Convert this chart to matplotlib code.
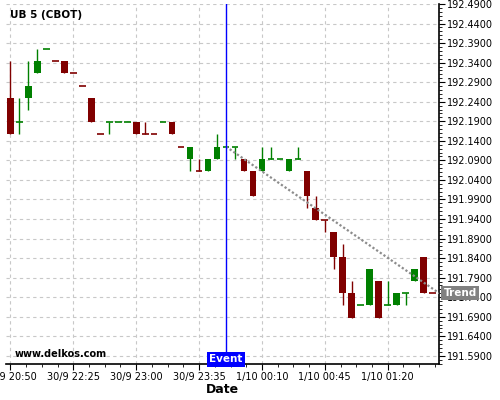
import numpy as np
import matplotlib
matplotlib.use('Agg')
import matplotlib.pyplot as plt
from matplotlib.ticker import MultipleLocator, FormatStrFormatter

# 5 minute candles, UB (CBOT), prices in 1/32 steps
opens = [192.25, 192.1875, 192.25, 192.3125, 192.375, 192.34375, 192.34375, 192.3125, 192.28125, 192.25,
         192.15625, 192.1875, 192.1875, 192.1875, 192.1875, 192.15625, 192.15625, 192.1875, 192.1875, 192.125,
         192.09375, 192.0625, 192.0625, 192.09375, 192.125, 192.125, 192.09375, 192.0625, 192.0625, 192.09375,
         192.09375, 192.0625, 192.09375, 192.0625, 191.96875, 191.9375, 191.90625, 191.84375, 191.75, 191.71875,
         191.71875, 191.78125, 191.71875, 191.71875, 191.75, 191.78125, 191.84375, 191.75]
closes = [192.15625, 192.1875, 192.28125, 192.34375, 192.375, 192.34375, 192.3125, 192.3125, 192.28125, 192.1875,
          192.15625, 192.1875, 192.1875, 192.1875, 192.15625, 192.15625, 192.15625, 192.1875, 192.15625, 192.125,
          192.125, 192.0625, 192.09375, 192.125, 192.125, 192.125, 192.0625, 192.0, 192.09375, 192.09375,
          192.09375, 192.09375, 192.09375, 192.0, 191.9375, 191.9375, 191.84375, 191.75, 191.6875, 191.71875,
          191.8125, 191.6875, 191.71875, 191.75, 191.75, 191.8125, 191.75, 191.75]
highs = [192.34375, 192.25, 192.34375, 192.375, 192.375, 192.34375, 192.34375, 192.3125, 192.28125, 192.25,
         192.15625, 192.1875, 192.1875, 192.1875, 192.1875, 192.1875, 192.15625, 192.1875, 192.1875, 192.125,
         192.125, 192.09375, 192.09375, 192.15625, 192.125, 192.125, 192.09375, 192.0625, 192.125, 192.125,
         192.09375, 192.09375, 192.125, 192.0625, 192.0, 191.9375, 191.90625, 191.875, 191.78125, 191.71875,
         191.8125, 191.78125, 191.78125, 191.75, 191.75, 191.8125, 191.84375, 191.75]
lows = [192.15625, 192.15625, 192.21875, 192.3125, 192.375, 192.34375, 192.3125, 192.3125, 192.28125, 192.1875,
        192.15625, 192.15625, 192.1875, 192.1875, 192.15625, 192.15625, 192.15625, 192.1875, 192.15625, 192.125,
        192.0625, 192.0625, 192.0625, 192.09375, 192.125, 192.09375, 192.0625, 192.0, 192.0625, 192.09375,
        192.09375, 192.0625, 192.09375, 191.96875, 191.9375, 191.90625, 191.8125, 191.71875, 191.6875, 191.71875,
        191.71875, 191.6875, 191.71875, 191.71875, 191.71875, 191.78125, 191.75, 191.75]
# flat candles (open == close) that are drawn green
flat_green = [1, 4, 11, 12, 13, 17, 24, 25, 29, 30, 32, 39, 42, 44]

tick_idx = [0, 7, 14, 21, 28, 35, 42]
tick_labels = ['30/9 20:50', '30/9 22:25', '30/9 23:00', '30/9 23:35',
               '1/10 00:10', '1/10 00:45', '1/10 01:20']
price_ticks = [191.59, 191.64, 191.69, 191.74, 191.79, 191.84, 191.89, 191.94, 191.99,
               192.04, 192.09, 192.14, 192.19, 192.24, 192.29, 192.34, 192.39, 192.44, 192.49]

event_idx = 24
trend_x = [24, 47.75]
trend_y = [192.125, 191.75]

GREEN = '#008000'
RED = '#800000'

fig = plt.figure(figsize=(5, 4), dpi=100)
ax = fig.add_axes([0.012, 0.089, 0.8666, 0.901])

x = np.arange(len(opens))
o = np.array(opens)
c = np.array(closes)
colors = []
for i in x:
    if c[i] > o[i] or (c[i] == o[i] and i in flat_green):
        colors.append(GREEN)
    else:
        colors.append(RED)

# wicks
ax.vlines(x, lows, highs, colors=colors, linewidth=1, zorder=3)
# bodies
w = 0.74
for i in x:
    if c[i] == o[i]:
        ax.hlines(o[i], i - w / 2, i + w / 2, colors=colors[i], linewidth=1.2, zorder=4)
    else:
        ax.bar(i, c[i] - o[i], bottom=o[i], width=w, color=colors[i], zorder=4)

# trend line
ax.plot(trend_x, trend_y, color='#8c8c8c', linestyle=(0, (1, 1)), linewidth=1.6, zorder=5)

# event line
ax.axvline(event_idx, color='#0000ff', linewidth=1, zorder=6)
ax.text(event_idx, 191.568, 'Event', ha='center', va='bottom', color='white',
        fontsize=7.5, fontweight='bold', zorder=7,
        bbox=dict(boxstyle='square,pad=0.25', facecolor='#0000ff', edgecolor='none'))

ax.set_xlim(-0.5, 47.75)
ax.set_ylim(191.568, 192.49)

ax.yaxis.tick_right()
ax.set_yticks(price_ticks)
ax.yaxis.set_minor_locator(MultipleLocator(0.01))
ax.yaxis.set_major_formatter(FormatStrFormatter('%.4f'))
ax.set_xticks(tick_idx)
ax.set_xticklabels(tick_labels)
ax.xaxis.set_minor_locator(MultipleLocator(1.75))
ax.tick_params(axis='both', which='major', labelsize=7, length=4, width=0.8, pad=1.5)
ax.tick_params(axis='both', which='minor', length=2, width=0.6)

for side in ['top', 'left']:
    ax.spines[side].set_visible(False)
ax.spines['right'].set_linewidth(1.2)
ax.spines['bottom'].set_linewidth(1.2)

ax.grid(True, which='major', color='#c8c8c8', linestyle=(0, (3, 3)), linewidth=0.8)
ax.set_axisbelow(True)

ax.text(0.009, 0.97, 'UB 5 (CBOT)', transform=ax.transAxes, fontsize=7.5,
        fontweight='bold', va='center', ha='left')
ax.text(0.021, 0.028, 'www.delkos.com', transform=ax.transAxes, fontsize=7,
        fontweight='bold', va='center', ha='left')

ax.annotate('Trend', xy=(1.0, 191.75), xycoords=('axes fraction', 'data'),
            xytext=(3, 0), textcoords='offset points', ha='left', va='center',
            color='white', fontsize=7.5, fontweight='bold', zorder=10, annotation_clip=False,
            bbox=dict(boxstyle='square,pad=0.2', facecolor='#808080', edgecolor='none'))

ax.set_xlabel('Date', fontsize=9, fontweight='bold', labelpad=1)

fig.savefig('out.png', dpi=100)
